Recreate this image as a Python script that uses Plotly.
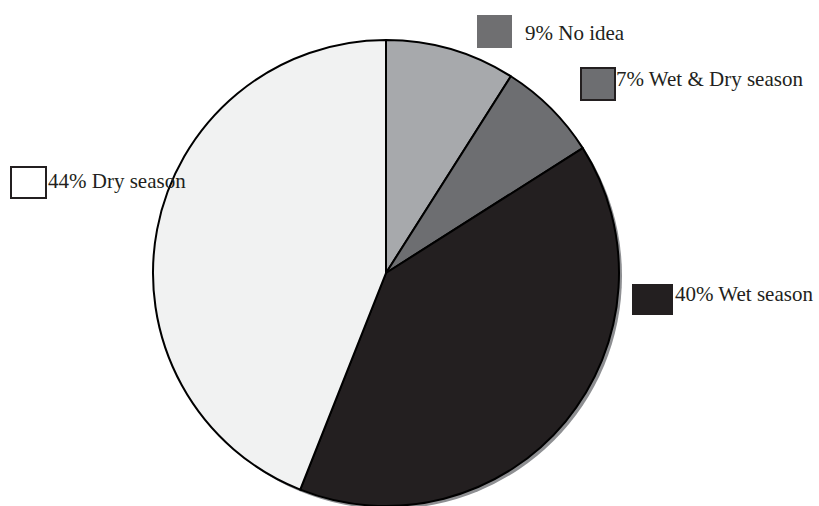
import plotly.graph_objects as go

# Survey answers, clockwise from 12 o'clock
labels = ["No idea", "Wet & Dry season", "Wet season", "Dry season"]
values = [9, 7, 40, 44]
slice_colors = ["#a7a9ac", "#6d6e71", "#231f20", "#f1f2f2"]

# Legend swatches: fill, border colour (None = no border)
legend_fill = ["#6f6f71", "#6d6e71", "#231f20", "#ffffff"]
legend_line = [None, "#231f20", None, "#231f20"]
legend_text = [f"{v}% {lab}" for v, lab in zip(values, labels)]

W, H = 819, 506
CX, CY, R = 386, 273, 233


def px(x):
    return x / W


def py(y):
    return 1 - y / H


fig = go.Figure()

fig.add_trace(go.Pie(
    labels=labels, values=values, sort=False, direction="clockwise",
    rotation=0, textinfo="none", hoverinfo="label+percent",
    marker=dict(colors=slice_colors, line=dict(color="#000000", width=2)),
    domain=dict(x=[px(CX - R), px(CX + R)], y=[max(0, py(CY + R)), py(CY - R)]),
    showlegend=False,
))

# drop shadow under the pie, offset down and to the right
shapes = [dict(
    type="circle", xref="paper", yref="paper", layer="below",
    x0=px(CX - R + 3), x1=px(CX + R + 3), y0=py(CY + R + 3), y1=py(CY - R + 3),
    fillcolor="#8e8f92", line=dict(width=0),
)]

# swatch boxes (x0, y0, x1, y1 in pixels) and label anchor positions
boxes = [(477, 15, 512, 48), (581, 68, 615, 100), (632, 284, 673, 315), (11, 167, 46, 198)]
text_pos = [(523, 33), (614, 79), (673, 294), (46, 181)]

annotations = []
for (x0, y0, x1, y1), fill, line, (tx, ty), txt in zip(boxes, legend_fill, legend_line, text_pos, legend_text):
    shapes.append(dict(
        type="rect", xref="paper", yref="paper",
        x0=px(x0), x1=px(x1), y0=py(y1), y1=py(y0),
        fillcolor=fill,
        line=dict(color=line if line else fill, width=2 if line else 0),
        layer="above",
    ))
    annotations.append(dict(
        text=txt, xref="paper", yref="paper", x=px(tx), y=py(ty),
        xanchor="left", yanchor="middle", showarrow=False,
        font=dict(family="Liberation Serif", size=21, color="#231f20"),
    ))

fig.update_layout(
    width=W, height=H,
    margin=dict(l=0, r=0, t=0, b=0),
    paper_bgcolor="#ffffff", plot_bgcolor="rgba(0,0,0,0)",
    shapes=shapes, annotations=annotations,
)

fig.write_html("out.html")
